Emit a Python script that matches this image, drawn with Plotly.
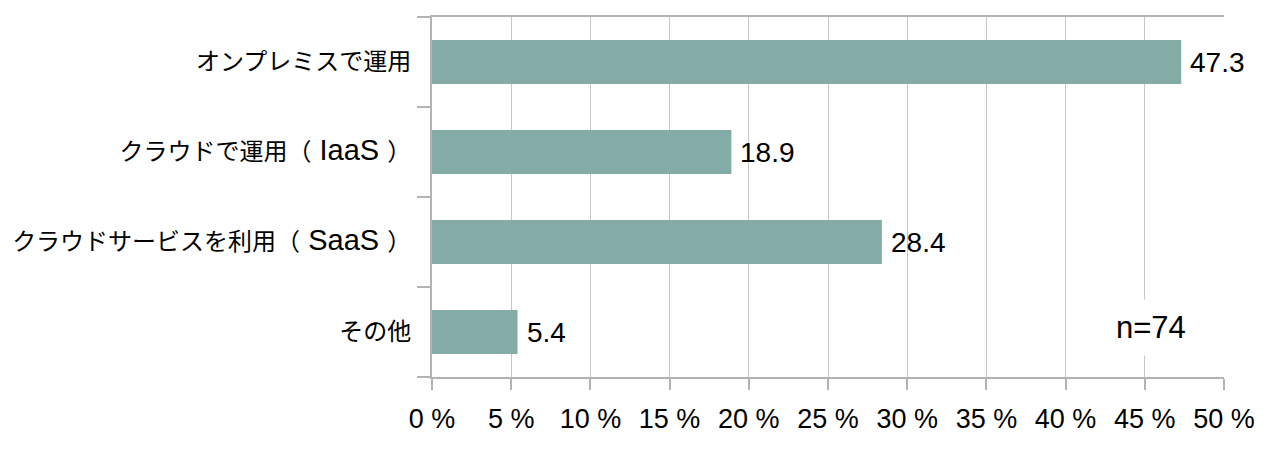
import plotly.graph_objects as go

categories = ["オンプレミスで運用", "クラウドで運用（IaaS）", "クラウドサービスを利用（SaaS）", "その他"]
category_labels = [
    "オンプレミスで運用",
    "クラウドで運用（<span style='font-size:29px'> IaaS </span>）",
    "クラウドサービスを利用（<span style='font-size:29px'> SaaS </span>）",
    "その他",
]
values = [47.3, 18.9, 28.4, 5.4]
value_labels = ["47.3", "18.9", "28.4", "5.4"]
x_ticks = [0, 5, 10, 15, 20, 25, 30, 35, 40, 45, 50]
x_tick_labels = ["0 %", "5 %", "10 %", "15 %", "20 %", "25 %", "30 %", "35 %", "40 %", "45 %", "50 %"]
n_label = "n=74"

BAR = "#84aba5"
GRID = "#c6c6c6"
AXIS = "#b3b3b3"

fig = go.Figure()
fig.add_trace(go.Bar(
    x=values, y=categories, orientation="h",
    marker=dict(color=BAR, line=dict(width=0)),
    width=0.49, hoverinfo="skip",
))

for c, v, t in zip(categories, values, value_labels):
    fig.add_annotation(x=v, y=c, xref="x", yref="y", text=t, showarrow=False,
                       xanchor="left", yanchor="middle", xshift=7,
                       font=dict(family="Liberation Sans", size=28, color="#000000"))

fig.add_annotation(x=45.4, y=3, xref="x", yref="y", text=n_label, showarrow=False,
                   xanchor="center", yanchor="middle", bgcolor="#ffffff", borderpad=10,
                   yshift=5,
                   font=dict(family="Liberation Sans", size=31, color="#000000"))

fig.update_layout(
    width=1278, height=456,
    margin=dict(l=424, r=62, t=9, b=87),
    paper_bgcolor="#ffffff", plot_bgcolor="#ffffff",
    showlegend=False,
    font=dict(family="Liberation Sans, Noto Sans CJK JP", color="#000000"),
)
fig.update_xaxes(
    range=[0, 50], tickvals=x_ticks, ticktext=x_tick_labels,
    showgrid=True, gridcolor=GRID, gridwidth=1,
    showline=True, linecolor=AXIS, linewidth=2, mirror=True,
    ticks="outside", ticklen=11, tickcolor=AXIS, tickwidth=2,
    ticklabelstandoff=6, automargin=False,
    tickfont=dict(family="Liberation Sans", size=27, color="#000000"),
    zeroline=False, fixedrange=True,
)
fig.update_yaxes(
    autorange="reversed", categoryorder="array", categoryarray=categories,
    tickmode="array", tickvals=categories, ticktext=category_labels,
    tickson="boundaries", ticks="outside", ticklen=13, tickcolor=AXIS, tickwidth=2,
    showline=True, linecolor=AXIS, linewidth=2, automargin=False,
    showgrid=False, ticklabelstandoff=14,
    tickfont=dict(family="Liberation Sans, Noto Sans CJK JP", size=24, color="#000000"),
    fixedrange=True,
)

fig.write_html("out.html", config={"displayModeBar": False})
